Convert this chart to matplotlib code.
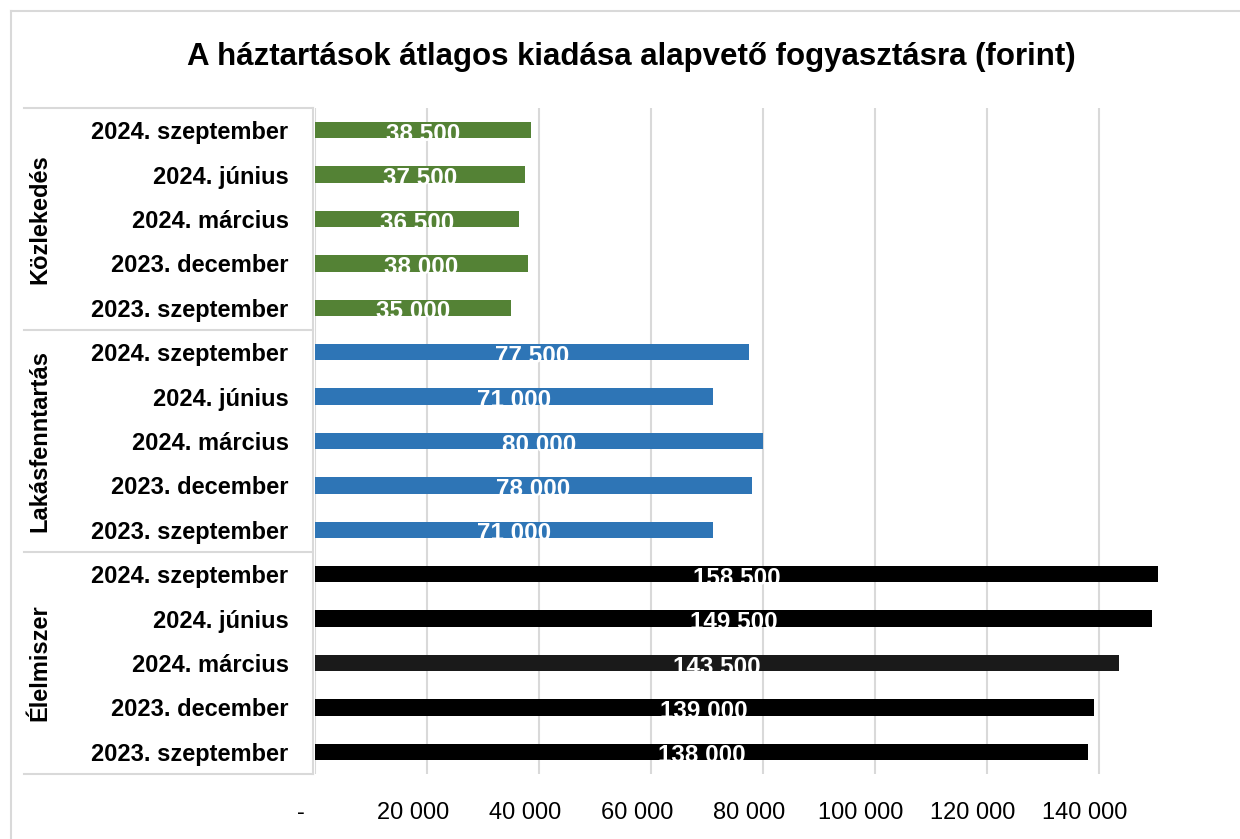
import matplotlib
matplotlib.use("Agg")
import matplotlib.pyplot as plt
import matplotlib.transforms as mtransforms
from matplotlib.lines import Line2D

plt.rcParams['font.family'] = ['Liberation Sans', 'DejaVu Sans']

# adatok (felülről lefelé)
groups = ["Közlekedés", "Lakásfenntartás", "Élelmiszer"]
periods = ["2024. szeptember", "2024. június", "2024. március",
           "2023. december", "2023. szeptember"]
kozlekedes = [38500, 37500, 36500, 38000, 35000]
lakas = [77500, 71000, 80000, 78000, 71000]
elelmiszer = [158500, 149500, 143500, 139000, 138000]

group_colors = ["#548235", "#2E75B6", "#000000"]
elelmiszer_colors = ["#000000", "#000000", "#1a1a1a", "#000000", "#000000"]

x_max = 150500
ticks = [0, 20000, 40000, 60000, 80000, 100000, 120000, 140000]


def fmt(v):
    return "-" if v == 0 else f"{v:,.0f}".replace(",", " ")


values = kozlekedes + lakas + elelmiszer
colors = [group_colors[0]] * 5 + [group_colors[1]] * 5 + elelmiszer_colors
labels = periods * 3
ypos = list(range(len(values)))

fig = plt.figure(figsize=(12.4, 8.39), dpi=100)
ax = fig.add_axes([315 / 1240, 1 - 774 / 839, 843 / 1240, 666 / 839])

ax.barh(ypos, values, height=0.37, color=colors, zorder=2)
ax.set_xlim(0, x_max)
ax.set_ylim(len(values) - 0.5, -0.5)

ax.set_xticks(ticks)
ax.set_xticklabels([fmt(t) for t in ticks], fontsize=17)
ax.set_yticks(ypos)
ax.set_yticklabels(labels, fontsize=17, fontweight="bold")
ax.tick_params(axis="x", length=0, pad=20)
ax.tick_params(axis="y", length=0, pad=19)
shift = mtransforms.ScaledTranslation(-14 / 100, 0, fig.dpi_scale_trans)
for lbl in ax.get_xticklabels():
    lbl.set_transform(lbl.get_transform() + shift)

ax.grid(axis="x", color="#d9d9d9", linewidth=1.5, zorder=0)
for s in ax.spines.values():
    s.set_visible(False)

# adatcímkék
down = mtransforms.ScaledTranslation(0, -4 / 100, fig.dpi_scale_trans)
for y, v in zip(ypos, values):
    ax.text(min(v, x_max) / 2, y, fmt(v), color="white", fontsize=17.5,
            fontweight="bold", ha="center", va="center", zorder=3,
            transform=ax.transData + down)

# kategória-táblázat vonalai és csoportcímkék
yt = ax.get_yaxis_transform()
x0 = (24 - 315) / 843
x1 = -2 / 843
for b in [-0.5, 4.5, 9.5, 14.5]:
    ax.add_line(Line2D([x0, x1], [b, b], transform=yt, color="#d9d9d9",
                       linewidth=1.5, clip_on=False))
ax.add_line(Line2D([x1, x1], [-0.5, 14.5], transform=yt, color="#d9d9d9",
                   linewidth=1.5, clip_on=False))
for i, g in enumerate(groups):
    ax.text((40 - 315) / 843, i * 5 + 2, g, transform=yt, rotation=90,
            ha="center", va="center", fontsize=17, fontweight="bold")

# diagram kerete
fig.add_artist(Line2D([11 / 1240, 1], [1 - 11 / 839, 1 - 11 / 839],
                      transform=fig.transFigure, color="#d9d9d9", linewidth=1.5))
fig.add_artist(Line2D([11 / 1240, 11 / 1240], [0, 1 - 11 / 839],
                      transform=fig.transFigure, color="#d9d9d9", linewidth=1.5))

fig.text(631 / 1240, 1 - 57 / 839,
         "A háztartások átlagos kiadása alapvető fogyasztásra (forint)",
         ha="center", va="center", fontsize=22.5, fontweight="bold")

fig.savefig("out.png", dpi=100)
